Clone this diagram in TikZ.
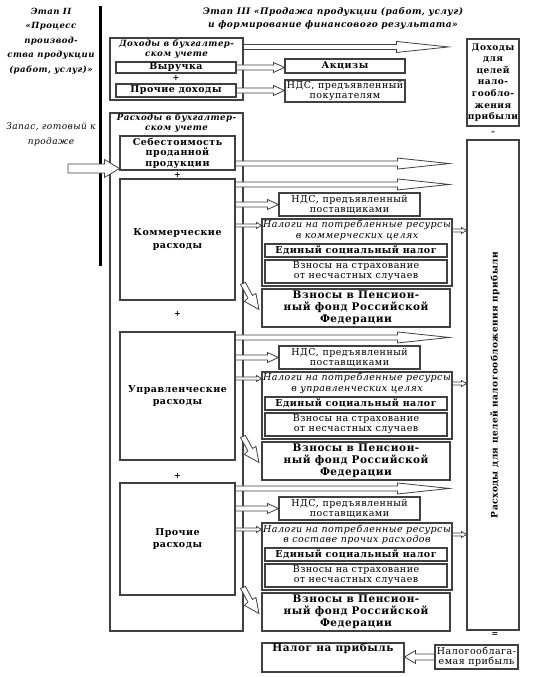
\documentclass[tikz,border=0pt]{standalone}
\usepackage{fontspec}
\setmainfont[LetterSpace=5]{DejaVu Serif}
\usetikzlibrary{calc}

\newcommand{\txtnorm}{\fontsize{9.5}{10}\selectfont}
\newcommand{\txtbold}{\fontsize{9.5}{10.5}\selectfont\bfseries}
\newcommand{\txtital}{\fontsize{9.5}{10.5}\selectfont\itshape}
\newcommand{\txthead}{\fontsize{8.6}{10}\selectfont\bfseries\itshape}
\newcommand{\txtbig}{\fontsize{10.5}{12}\selectfont\bfseries}
% hollow arrow: shaft half width, head half width, head length, from, to
\newcommand{\harrow}[5]{%
  \draw[arrowline] let \p1=#4, \p2=#5 in
    (\x1,\y1+#1) -- (\x2-#3,\y1+#1) -- (\x2-#3,\y1+#2) -- (\x2,\y1)
    -- (\x2-#3,\y1-#2) -- (\x2-#3,\y1-#1) -- (\x1,\y1-#1) -- cycle;}
\newcommand{\longarr}[2]{\harrow{2.5pt}{5.5pt}{52pt}{#1}{#2}}
\newcommand{\shortarr}[2]{\harrow{2.5pt}{5pt}{11pt}{#1}{#2}}
\newcommand{\tinyarr}[2]{\harrow{1.5pt}{3pt}{5pt}{#1}{#2}}
\newcommand{\bentarrow}[1]{%
  \draw[arrowline]
    ($(#1.north west)+(-21,-4)$) -- ++(5,-2) -- ++(7,13) -- ++(3.5,-2) -- ++(3,16)
    -- ++(-14.5,-8) -- ++(3.5,-3.5) -- cycle;}

\tikzset{
  box/.style={draw=black!75, line width=1.1pt, fill=white, inner sep=0pt, align=center},
  arrowline/.style={draw=black!75, line width=0.8pt, fill=white},
  sign/.style={inner sep=0pt, font=\fontsize{8}{8}\selectfont\bfseries}
}

\begin{document}
\begin{tikzpicture}[x=1pt,y=-1pt]
  \useasboundingbox (0,0) rectangle (534,677);

  % stage titles
  \node[align=center, font=\fontsize{8.5}{14.5}\selectfont\bfseries\itshape] (etap2) at (51,41)
    {Этап II\\«Процесс\\производ-\\ства продукции\\(работ, услуг)»};
  \node[align=center, font=\fontsize{9}{13}\selectfont\bfseries\itshape] (etap3) at (333,18.5)
    {Этап III «Продажа продукции (работ, услуг)\\и формирование финансового результата»};
  \draw[line width=3pt] (100,6) -- (100,266);
  \node[align=center, font=\fontsize{9}{15}\selectfont\itshape] (zapas) at (51,134.5)
    {Запас, готовый к\\продаже};

  % incomes
  \node[box, minimum width=133pt, minimum height=62pt] (dohbuh) at (176.5,69) {};
  \node[align=center, font=\txthead] (dohbuht) at (176.5,49) {Доходы в бухгалтер-\\ском учете};
  \node[box, font=\txtbold, minimum width=120pt, minimum height=11pt] (vyr) at (176,67.5) {Выручка};
  \node[sign] (plus0) at (176,78) {+};
  \node[box, font=\txtbold, minimum width=120pt, minimum height=13pt] (prdoh) at (176,90.5) {Прочие доходы};
  \node[box, font=\txtbold, minimum width=120pt, minimum height=14pt] (akciz) at (345,66) {Акцизы};
  \node[box, font=\txtnorm, minimum width=120pt, minimum height=22pt] (ndspok) at (345,91)
    {НДС, предъявленный\\покупателям};

  % right column
  \node[box, font=\fontsize{9}{11.6}\selectfont\bfseries, minimum width=52pt, minimum height=87pt] (dohnal) at (493,82.5)
    {Доходы\\для\\целей\\нало-\\гообло-\\жения\\прибыли};
  \node[sign] (minus) at (493,133) {–};
  \node[box, minimum width=52pt, minimum height=490pt] (rasnal) at (493,385) {};
  \node[rotate=90, font=\fontsize{9}{10}\selectfont\bfseries] (rasnalt) at (495,385) {Расходы для целей налогообложения прибыли};
  \node[sign] (equal) at (495,635) {=};
  \node[box, font=\txtnorm, minimum width=83pt, minimum height=24pt] (nalbaza) at (476.5,657)
    {Налогооблага-\\емая прибыль};
  \node[box, minimum width=142pt, minimum height=29pt] (nalog) at (333,657.5) {};
  \node[font=\txtbig] (nalogt) at (333,649) {Налог на прибыль};

  % expenses
  \node[box, minimum width=133pt, minimum height=518pt] (rasbuh) at (176.5,372) {};
  \node[align=center, font=\txthead] (rasbuht) at (176.5,123) {Расходы в бухгалтер-\\ском учете};
  \node[box, font=\txtbold, minimum width=115pt, minimum height=34pt] (sebest) at (177.5,153)
    {Себестоимость\\проданной\\продукции};
  \node[sign] (plus1) at (177.5,175) {+};
  \node[box, font=\fontsize{9.5}{12.5}\selectfont\bfseries, minimum width=115pt, minimum height=121pt] (komm) at (177.5,239.5)
    {Коммерческие\\расходы};
  \node[sign] (plus2) at (177.5,314) {+};
  \node[box, font=\fontsize{9.5}{12.5}\selectfont\bfseries, minimum width=115pt, minimum height=128pt] (upr) at (177.5,396)
    {Управленческие\\расходы};
  \node[sign] (plus3) at (177.5,476) {+};
  \node[box, font=\fontsize{9.5}{12.5}\selectfont\bfseries, minimum width=115pt, minimum height=112pt] (proch) at (177.5,539)
    {Прочие\\расходы};

  % commercial
  \node[box, font=\txtnorm, minimum width=141pt, minimum height=23pt] (ndsK) at (349.5,204.5) {НДС, предъявленный\\поставщиками};
  \node[box, minimum width=190pt, minimum height=67pt] (nalK) at (357,252.5) {};
  \node[align=center, font=\txtital] (nalKt) at (357,230.5) {Налоги на потребленные ресурсы\\в коммерческих целях};
  \node[box, font=\txtbold, minimum width=182pt, minimum height=13pt] (esnK) at (356,250.5) {Единый социальный налог};
  \node[box, font=\txtnorm, minimum width=182pt, minimum height=23pt] (nsK) at (356,271.5) {Взносы на страхование\\от несчастных случаев};
  \node[box, font=\txtbig, minimum width=188pt, minimum height=38pt] (pfrK) at (356,308) {Взносы в Пенсион-\\ный фонд Российской\\Федерации};

  % management
  \node[box, font=\txtnorm, minimum width=141pt, minimum height=23pt] (ndsU) at (349.5,357.5) {НДС, предъявленный\\поставщиками};
  \node[box, minimum width=190pt, minimum height=67pt] (nalU) at (357,405.5) {};
  \node[align=center, font=\txtital] (nalUt) at (357,383.5) {Налоги на потребленные ресурсы\\в управленческих целях};
  \node[box, font=\txtbold, minimum width=182pt, minimum height=13pt] (esnU) at (356,403.5) {Единый социальный налог};
  \node[box, font=\txtnorm, minimum width=182pt, minimum height=23pt] (nsU) at (356,424.5) {Взносы на страхование\\от несчастных случаев};
  \node[box, font=\txtbig, minimum width=188pt, minimum height=38pt] (pfrU) at (356,461) {Взносы в Пенсион-\\ный фонд Российской\\Федерации};

  % other
  \node[box, font=\txtnorm, minimum width=141pt, minimum height=23pt] (ndsP) at (349.5,508.5) {НДС, предъявленный\\поставщиками};
  \node[box, minimum width=190pt, minimum height=67pt] (nalP) at (357,556.5) {};
  \node[align=center, font=\txtital] (nalPt) at (357,534.5) {Налоги на потребленные ресурсы\\в составе прочих расходов};
  \node[box, font=\txtbold, minimum width=182pt, minimum height=13pt] (esnP) at (356,554.5) {Единый социальный налог};
  \node[box, font=\txtnorm, minimum width=182pt, minimum height=23pt] (nsP) at (356,575.5) {Взносы на страхование\\от несчастных случаев};
  \node[box, font=\txtbig, minimum width=188pt, minimum height=38pt] (pfrP) at (356,612) {Взносы в Пенсион-\\ный фонд Российской\\Федерации};

  % arrows
  \longarr{($(dohbuh.north east)+(0,9.5)$)}{([xshift=-18pt]rasnal.west)}
  \shortarr{(vyr.east)}{(akciz.west)}
  \shortarr{(prdoh.east)}{(ndspok.west)}
  \coordinate (zap) at (68,168.5);
  \harrow{4.5pt}{9pt}{15pt}{(zap)}{(sebest.west |- zap)}
  \longarr{($(sebest.south east)+(0,-7)$)}{([xshift=-17pt]rasnal.west)}
  \harrow{3pt}{6.5pt}{-11pt}{(nalbaza.west)}{(nalog.east)}

  \longarr{($(komm.north east)+(0,6)$)}{([xshift=-17pt]rasnal.west)}
  \shortarr{(komm.east |- ndsK)}{(ndsK.west)}
  \tinyarr{($(komm.east |- nalK.north)+(0,7)$)}{(nalK.west)}
  \tinyarr{(nalK.east |- nalKt)}{(rasnal.west |- nalKt)}
  \bentarrow{pfrK}

  \longarr{($(upr.north east)+(0,6)$)}{([xshift=-17pt]rasnal.west)}
  \shortarr{(upr.east |- ndsU)}{(ndsU.west)}
  \tinyarr{($(upr.east |- nalU.north)+(0,7)$)}{(nalU.west)}
  \tinyarr{(nalU.east |- nalUt)}{(rasnal.west |- nalUt)}
  \bentarrow{pfrU}

  \longarr{($(proch.north east)+(0,6)$)}{([xshift=-17pt]rasnal.west)}
  \shortarr{(proch.east |- ndsP)}{(ndsP.west)}
  \tinyarr{($(proch.east |- nalP.north)+(0,7)$)}{(nalP.west)}
  \tinyarr{(nalP.east |- nalPt)}{(rasnal.west |- nalPt)}
  \bentarrow{pfrP}
\end{tikzpicture}
\end{document}
